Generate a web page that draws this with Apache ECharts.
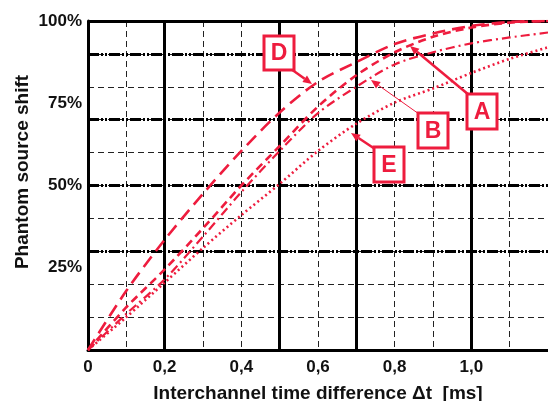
<!DOCTYPE html>
<html>
<head>
<meta charset="utf-8">
<script src="https://cdn.jsdelivr.net/npm/echarts@6/dist/echarts.min.js"></script>
<style>
html,body{margin:0;padding:0;background:#fff;}
#chart{width:548px;height:401px;}
</style>
</head>
<body>
<div id="chart"></div>
<script>
// ---- data ----
const tMs    = [0, 0.1, 0.2, 0.3, 0.4, 0.5, 0.6, 0.7, 0.8, 0.9, 1.0, 1.1, 1.2];
const curveD = [0, 0.18, 0.335, 0.475, 0.605, 0.722, 0.815, 0.875, 0.93, 0.962, 0.985, 0.997, 1.0];
const curveA = [0, 0.13, 0.245, 0.37, 0.5, 0.62, 0.74, 0.835, 0.905, 0.952, 0.98, 0.995, 1.0];
const curveB = [0, 0.11, 0.215, 0.345, 0.48, 0.605, 0.72, 0.8, 0.868, 0.905, 0.932, 0.95, 0.965];
const curveE = [0, 0.1, 0.205, 0.31, 0.41, 0.505, 0.605, 0.688, 0.752, 0.795, 0.842, 0.885, 0.92];
const xTickLabels = ['0', '0,2', '0,4', '0,6', '0,8', '1,0'];
const yTickLabels = ['', '25%', '50%', '75%', '100%'];
const solidGridX = [0.2, 0.5, 0.7, 1.0];
const dashDotGridY = [0.3, 0.5, 0.7, 0.9];
const xTitle = 'Interchannel time difference \u0394t  [ms]';
const yTitle = 'Phantom source shift';

const RED = '#ee1c3e';
const FONT = '"Liberation Sans", Arial, sans-serif';

function pairs(ys) { return tMs.map((t, i) => [t, ys[i]]); }

const chart = echarts.init(document.getElementById('chart'), null, {renderer: 'canvas'});

function curve(name, ys, type, width) {
  return {
    name: name, type: 'line', data: pairs(ys), xAxisIndex: 0, yAxisIndex: 0,
    showSymbol: false, smooth: 0.3, z: 5,
    lineStyle: {color: RED, width: width, type: type, cap: 'butt'}
  };
}

// annotations (box + arrow)
const notes = [
  {label: 'D', box: [264, 36, 30, 34], from: [291, 69], to: [312, 84], w: 2.5},
  {label: 'A', box: [467, 94, 30, 35], from: [469, 95], to: [410, 46], w: 2.5},
  {label: 'B', box: [418, 113, 30, 35], from: [419, 114], to: [371, 80], w: 1},
  {label: 'E', box: [374, 147, 30, 35], from: [375, 149], to: [351, 133], w: 2.5}
];
const graphics = [];
notes.forEach(n => {
  const dx = n.to[0] - n.from[0], dy = n.to[1] - n.from[1];
  const len = Math.sqrt(dx * dx + dy * dy), ux = dx / len, uy = dy / len;
  const hl = 9, hw = 4;
  const bx = n.to[0] - ux * hl, by = n.to[1] - uy * hl;
  graphics.push({type: 'line', z: 20, shape: {x1: n.from[0], y1: n.from[1], x2: bx, y2: by},
    style: {stroke: RED, lineWidth: n.w}});
  graphics.push({type: 'polygon', z: 20, shape: {points: [[n.to[0], n.to[1]], [bx - uy * hw, by + ux * hw], [bx + uy * hw, by - ux * hw]]},
    style: {fill: RED}});
  graphics.push({type: 'rect', z: 21, shape: {x: n.box[0], y: n.box[1], width: n.box[2], height: n.box[3]},
    style: {fill: '#fff', stroke: RED, lineWidth: 3}});
  graphics.push({type: 'text', z: 22, x: n.box[0] + n.box[2] / 2, y: n.box[1] + n.box[3] / 2 + 1,
    style: {text: n.label, fill: RED, font: 'bold 23px ' + FONT, textAlign: 'center', textVerticalAlign: 'middle'}});
});
graphics.push({type: 'text', x: 23, y: 172, rotation: Math.PI / 2,
  style: {text: yTitle, fill: '#111', font: 'bold 19px ' + FONT, textAlign: 'center', textVerticalAlign: 'middle'}});

const option = {
  animation: false,
  backgroundColor: '#fff',
  grid: {left: 88, right: 0, top: 21, bottom: 51, show: false, containLabel: false, outerBoundsMode: 'none'},
  xAxis: [
    {type: 'value', min: 0, max: 1.2, interval: 0.2, position: 'bottom',
     name: xTitle, nameLocation: 'middle', nameGap: 34,
     nameTextStyle: {color: '#111', fontSize: 19, fontWeight: 'bold', fontFamily: FONT},
     axisLine: {show: true, lineStyle: {color: '#000', width: 3}},
     axisTick: {show: false}, splitLine: {show: false},
     axisLabel: {color: '#111', fontSize: 17, fontWeight: 'bold', fontFamily: FONT, margin: 9,
       formatter: v => { const i = Math.round(v / 0.2); return i < xTickLabels.length ? xTickLabels[i] : ''; }}},
    {type: 'value', min: 0, max: 1.2, interval: 0.1, position: 'bottom',
     axisLine: {show: false}, axisTick: {show: false}, axisLabel: {show: false},
     splitLine: {show: true, lineStyle: {color: '#222', width: 1, type: [6, 4]}}}
  ],
  yAxis: [
    {type: 'value', min: 0, max: 1, interval: 0.25,
     axisLine: {show: true, lineStyle: {color: '#000', width: 3}},
     axisTick: {show: false}, splitLine: {show: false},
     axisLabel: {color: '#111', fontSize: 17, fontWeight: 'bold', fontFamily: FONT, margin: 6,
       formatter: v => yTickLabels[Math.round(v / 0.25)] || ''}},
    {type: 'value', min: 0, max: 1, interval: 0.1, position: 'left',
     axisLine: {show: false}, axisTick: {show: false}, axisLabel: {show: false},
     splitLine: {show: true, lineStyle: {color: '#222', width: 1, type: [6, 4]}}}
  ],
  series: [
    {type: 'line', data: [], xAxisIndex: 0, yAxisIndex: 0, z: 1, silent: true,
     markLine: {silent: true, symbol: 'none', label: {show: false}, animation: false,
       data: [
         ...solidGridX.map(x => ({xAxis: x, lineStyle: {color: '#000', width: 3, type: 'solid'}})),
         ...dashDotGridY.map(y => ({yAxis: y, lineStyle: {color: '#000', width: 3, type: [11, 2, 2, 2, 2, 2]}})),
         {yAxis: 1, lineStyle: {color: '#000', width: 3, type: 'solid'}}
       ]}},
    curve('D', curveD, [13, 7], 2.6),
    curve('A', curveA, [8, 5], 2.6),
    curve('B', curveB, [9, 4, 2, 4], 2.2),
    curve('E', curveE, [2, 3], 2.6)
  ],
  graphic: graphics
};
chart.setOption(option);
</script>
</body>
</html>
